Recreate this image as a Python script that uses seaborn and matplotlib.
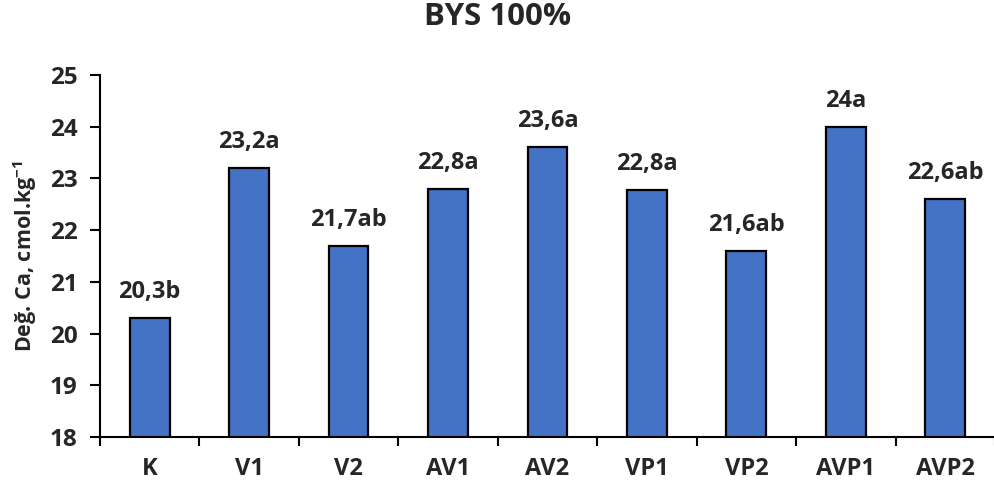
import matplotlib
matplotlib.use("Agg")
import matplotlib.pyplot as plt
import seaborn as sns
import pandas as pd
import numpy as np
from matplotlib.ticker import FixedLocator

categories = ["K", "V1", "V2", "AV1", "AV2", "VP1", "VP2", "AVP1", "AVP2"]
values = [20.3, 23.2, 21.7, 22.8, 23.6, 22.77, 21.6, 24.0, 22.6]
bar_labels = ["20,3b", "23,2a", "21,7ab", "22,8a", "23,6a", "22,8a", "21,6ab", "24a", "22,6ab"]
yticks = [18, 19, 20, 21, 22, 23, 24, 25]

sns.set_style("white")
plt.rcParams['font.family'] = ['Open Sans', 'DejaVu Sans']
plt.rcParams['font.weight'] = 'bold'
plt.rcParams['mathtext.fontset'] = 'custom'
plt.rcParams['mathtext.bf'] = 'Open Sans:bold'
plt.rcParams['mathtext.rm'] = 'Open Sans:bold'
plt.rcParams['mathtext.default'] = 'bf'

df = pd.DataFrame({"cat": categories, "val": values})

fig = plt.figure(figsize=(9.95, 4.9), dpi=100)
ax = fig.add_axes([0.1005, 0.108, 0.8995, 0.739])
sns.barplot(data=df, x="cat", y="val", color="#4472C4", edgecolor="black",
            linewidth=1.6, width=0.4, saturation=1, ax=ax)

ax.set_ylim(18, 25)
ax.set_xlim(-0.5, len(categories) - 0.5)
ax.set_yticks(yticks)
ax.set_yticklabels([str(t) for t in yticks], fontsize=17.5, fontweight='bold')
ax.set_xticklabels(categories, fontsize=17, fontweight='bold')
ax.tick_params(axis='x', which='major', length=0, pad=14)
ax.xaxis.set_minor_locator(FixedLocator(np.arange(-0.5, len(categories), 1.0)))
ax.tick_params(axis='x', which='minor', length=6.5, width=1.5, color='black', direction='out', bottom=True)
ax.tick_params(axis='y', length=7, width=1.5, color='black', direction='out', left=True, pad=9)

for s in ["top", "right"]:
    ax.spines[s].set_visible(False)
for s in ["left", "bottom"]:
    ax.spines[s].set_color("black")
    ax.spines[s].set_linewidth(1.5)

for i, (v, lab) in enumerate(zip(values, bar_labels)):
    ax.annotate(lab, xy=(i, v), xytext=(0, 14.5), textcoords='offset points',
                ha='center', va='baseline', fontsize=17, fontweight='bold')

ax.set_xlabel("")
ax.set_ylabel("Değ. Ca, cmol.kg$^{-1}$", fontsize=15.5, fontweight='bold', labelpad=8)
fig.suptitle("BYS 100%", fontsize=22.5, fontweight='bold', x=0.5, y=0.995)

fig.savefig("out.png", dpi=100)
